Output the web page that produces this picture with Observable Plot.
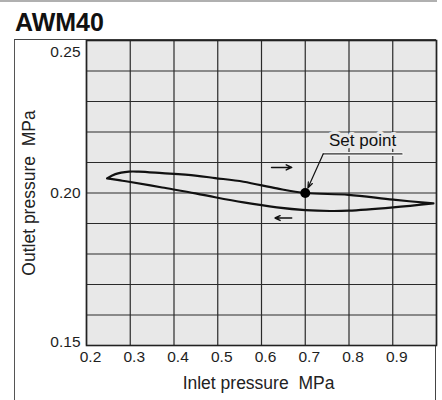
<!DOCTYPE html>
<html><head><meta charset="utf-8">
<script src="https://cdn.jsdelivr.net/npm/d3@7"></script>
<script src="https://cdn.jsdelivr.net/npm/@observablehq/plot@0.6"></script>
<style>
body{margin:0;background:#fff;font-family:"Liberation Sans",Arial,Helvetica,sans-serif;}
#wrap{position:relative;width:442px;height:400px;overflow:hidden;}
#topline{position:absolute;left:0;top:0;width:437px;height:2px;background:#b0b0b0;}
#title{position:absolute;left:15px;top:7px;font-weight:bold;font-size:25px;line-height:30px;color:#111;}
#box{position:absolute;left:14px;top:39px;width:420px;height:400px;border-left:1.5px solid #555;border-right:1.5px solid #444;border-top:1.5px solid #444;}
#chart{position:absolute;left:0;top:0;}
</style></head>
<body>
<div id="wrap">
  <div id="topline"></div>
  <div id="title">AWM40</div>
  <div id="box"></div>
  <div id="chart"></div>
</div>
<script>
// ---- data ----
const xTicks = [0.2, 0.3, 0.4, 0.5, 0.6, 0.7, 0.8, 0.9];
const xGrid = [0.2, 0.3, 0.4, 0.5, 0.6, 0.7, 0.8, 0.9, 1.0];
const yGrid = [0.15, 0.16, 0.17, 0.18, 0.19, 0.20, 0.21, 0.22, 0.23, 0.24, 0.25];
const yTickLabels = [0.15, 0.20, 0.25];
// rising inlet pressure (upper branch)
const upX = [0.247, 0.266, 0.297, 0.319, 0.373, 0.449, 0.494, 0.559, 0.635, 0.700, 0.799, 0.901, 0.993];
const upY = [0.2048, 0.2062, 0.2070, 0.2070, 0.2065, 0.2057, 0.2049, 0.2037, 0.2015, 0.2000, 0.1994, 0.1978, 0.1966];
// falling inlet pressure (lower branch)
const downX = [0.993, 0.901, 0.799, 0.757, 0.700, 0.635, 0.559, 0.494, 0.449, 0.373, 0.297, 0.274, 0.247];
const downY = [0.1966, 0.1953, 0.1942, 0.1941, 0.1944, 0.1953, 0.1969, 0.1986, 0.1999, 0.2018, 0.2037, 0.2042, 0.2048];
const setPoint = {x: 0.70, y: 0.200, label: "Set point"};
const labelPos = {x: 0.831, y: 0.2171};
const leader = [{x: 0.741, y: 0.2128}, {x: 0.921, y: 0.2128}];
const pointer = {x1: 0.741, y1: 0.2128, x2: 0.706, y2: 0.2016};
const dirArrows = [
  {x1: 0.623, x2: 0.669, y1: 0.2084, y2: 0.2084},
  {x1: 0.669, x2: 0.631, y1: 0.1918, y2: 0.1918}
];
const xTitle = "Inlet pressure\u00a0\u00a0MPa";
const yTitle = "Outlet pressure\u00a0\u00a0MPa";

const loop = [
  ...upX.map((x, i) => ({x, y: upY[i]})),
  ...downX.map((x, i) => ({x, y: downY[i]}))
];

const bg = "#e8e8e8";
const ink = "#1e1e1e";
const tickFont = 15.5;

const chart = Plot.plot({
  width: 442,
  height: 400,
  marginTop: 40,
  marginRight: 6,
  marginBottom: 55,
  marginLeft: 86,
  style: {background: "transparent", fontFamily: '"Liberation Sans", Arial, Helvetica, sans-serif', fontSize: "15.5px", color: ink},
  x: {domain: [0.2, 1.0]},
  y: {domain: [0.15, 0.25]},
  marks: [
    Plot.frame({fill: bg}),
    Plot.gridX(xGrid, {stroke: "#2a2a2a", strokeOpacity: 1, strokeWidth: 1.2}),
    Plot.gridY(yGrid, {stroke: "#2a2a2a", strokeOpacity: 1, strokeWidth: 1.2}),
    Plot.frame({stroke: "#222", strokeWidth: 1.6}),
    Plot.axisX(xTicks, {tickSize: 0, tickPadding: 5, dx: 4, tickFormat: d => d.toFixed(1), label: null, fill: ink, fontSize: tickFont}),
    Plot.axisY([yTickLabels[2]], {tickSize: 0, tickPadding: 6, dy: 12, tickFormat: d => d.toFixed(2), label: null, fill: ink, fontSize: tickFont}),
    Plot.axisY([yTickLabels[1]], {tickSize: 0, tickPadding: 6, dy: 0, tickFormat: d => d.toFixed(2), label: null, fill: ink, fontSize: tickFont}),
    Plot.axisY([yTickLabels[0]], {tickSize: 0, tickPadding: 6, dy: -3, tickFormat: d => d.toFixed(2), label: null, fill: ink, fontSize: tickFont}),
    Plot.text([xTitle], {frameAnchor: "bottom", text: d => d, dy: 38, dx: -3, textAnchor: "middle", lineAnchor: "middle", fontSize: 17.5, fill: "#222"}),
    Plot.text([yTitle], {frameAnchor: "left", text: d => d, rotate: -90, dx: -57, textAnchor: "middle", lineAnchor: "middle", fontSize: 17.5, fill: "#222"}),
    Plot.line(loop, {x: "x", y: "y", curve: "catmull-rom", stroke: "#111", strokeWidth: 2.2}),
    Plot.arrow(dirArrows, {x1: "x1", y1: "y1", x2: "x2", y2: "y2", stroke: "#111", strokeWidth: 1.5, headLength: 6, headAngle: 50}),
    Plot.line(leader, {x: "x", y: "y", stroke: "#f2f2f2", strokeWidth: 4}),
    Plot.line(leader, {x: "x", y: "y", stroke: "#333", strokeWidth: 1.3}),
    Plot.arrow([pointer], {x1: "x1", y1: "y1", x2: "x2", y2: "y2", stroke: "#111", strokeWidth: 1.2, headLength: 8, headAngle: 40}),
    Plot.text([labelPos], {x: "x", y: "y", text: () => setPoint.label, fontSize: 17, fill: "#111", stroke: bg, strokeWidth: 6}),
    Plot.dot([setPoint], {x: "x", y: "y", r: 5, fill: "#000"})
  ]
});
document.getElementById("chart").appendChild(chart);
</script>
</body></html>
